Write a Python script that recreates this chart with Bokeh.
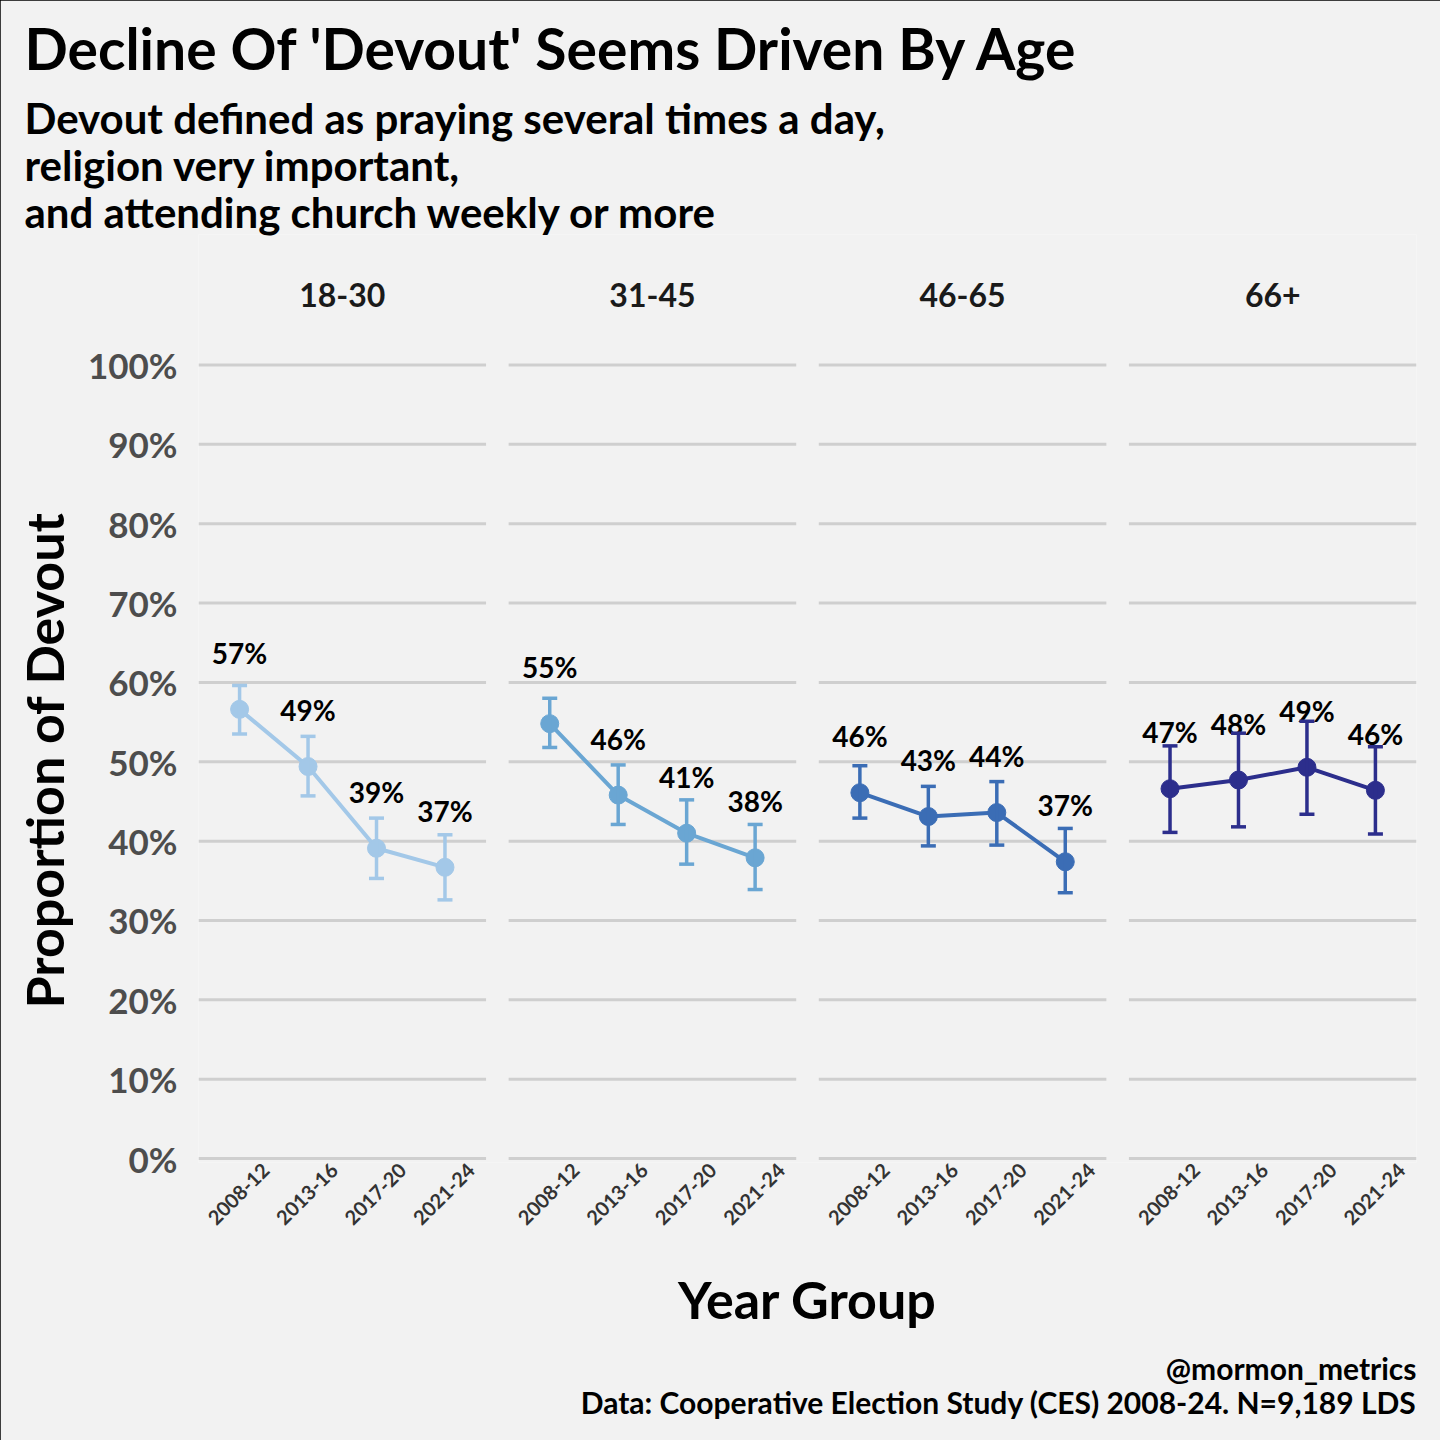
import math
from bokeh.plotting import figure
from bokeh.models import ColumnDataSource, Whisker, TeeHead, FixedTicker, Title, Label, PrintfTickFormatter
from bokeh.embed import file_html
from bokeh.resources import INLINE
from bokeh.core.properties import value

# ---------------- data ----------------
age_groups = ["18-30", "31-45", "46-65", "66+"]
year_groups = ["2008-12", "2013-16", "2017-20", "2021-24"]
panel_colors = ["#a3c8e8", "#6aa6d3", "#3b6db5", "#2c2e8c"]

devout_18_30 = [56.6, 49.4, 39.1, 36.7]
lower_18_30 = [53.5, 45.7, 35.3, 32.6]
upper_18_30 = [59.6, 53.2, 42.9, 40.8]

devout_31_45 = [54.8, 45.8, 41.0, 37.9]
lower_31_45 = [51.8, 42.1, 37.1, 33.9]
upper_31_45 = [58.0, 49.6, 45.2, 42.1]

devout_46_65 = [46.1, 43.1, 43.6, 37.4]
lower_46_65 = [42.9, 39.4, 39.5, 33.5]
upper_46_65 = [49.5, 46.9, 47.5, 41.6]

devout_66 = [46.6, 47.7, 49.3, 46.4]
lower_66 = [41.1, 41.8, 43.4, 40.9]
upper_66 = [52.0, 53.6, 55.1, 51.9]

y_ticks = list(range(0, 101, 10))

title_text = "Decline Of 'Devout' Seems Driven By Age"
subtitle_lines = [
    "Devout defined as praying several times a day,",
    "religion very important,",
    "and attending church weekly or more",
]
y_title = "Proportion of Devout"
x_title = "Year Group"
caption_lines = ["@mormon_metrics", "Data: Cooperative Election Study (CES) 2008-24. N=9,189 LDS"]

series = [
    (devout_18_30, lower_18_30, upper_18_30),
    (devout_31_45, lower_31_45, upper_31_45),
    (devout_46_65, lower_46_65, upper_46_65),
    (devout_66, lower_66, upper_66),
]

# ---------------- layout (facet positions) ----------------
PANEL_STEP = 453    # distance between facets in x units
CAT_STEP = 100      # distance between categories
PAD = 60            # padding inside a facet
TICK_SHIFT = 38     # centres the rotated year labels under their points
LABEL_OFFSET = 7.1  # value label offset above point
STRIP_Y = 108.8     # facet label height
FONT = "Lato"

x_start = CAT_STEP - PAD
x_end = 3 * PANEL_STEP + 4 * CAT_STEP + PAD

p = figure(width=1440, height=1440,
           x_range=(x_start, x_end), y_range=(-0.49, 116.43),
           output_backend="svg", toolbar_location=None,
           min_border_left=196, min_border_right=24,
           min_border_top=234, min_border_bottom=278,
           background_fill_color="#f2f2f2", border_fill_color="#f2f2f2",
           outline_line_color=None)
p.styles = {"outline": "2px solid black", "outline-offset": "-2px"}
p.xgrid.visible = False
p.ygrid.visible = False

# facet grid lines
gx0, gx1, gy = [], [], []
for k in range(len(age_groups)):
    for t in y_ticks:
        gx0.append(k * PANEL_STEP + x_start)
        gx1.append(k * PANEL_STEP + 4 * CAT_STEP + PAD)
        gy.append(t)
p.segment(x0=gx0, x1=gx1, y0=gy, y1=gy, line_color="#cfcfcf", line_width=3, level="underlay")

tick_pos = []
tick_labels = {}
for k, (vals, lo, hi) in enumerate(series):
    xs = [k * PANEL_STEP + (i + 1) * CAT_STEP for i in range(len(year_groups))]
    for xv, yg in zip(xs, year_groups):
        tick_pos.append(xv + TICK_SHIFT)
        tick_labels[xv + TICK_SHIFT] = yg
    c = panel_colors[k]
    src = ColumnDataSource(dict(
        x=xs, y=vals, lower=lo, upper=hi,
        label=[f"{round(v)}%" for v in vals],
        label_y=[v + LABEL_OFFSET for v in vals],
    ))
    w = Whisker(base="x", upper="upper", lower="lower", source=src, dimension="height",
                line_color=c, line_width=3.5, level="glyph",
                upper_head=TeeHead(size=15, line_color=c, line_width=3.5),
                lower_head=TeeHead(size=15, line_color=c, line_width=3.5))
    p.add_layout(w)
    p.line("x", "y", source=src, line_color=c, line_width=4)
    p.scatter("x", "y", source=src, size=18, fill_color=c, line_color=c)
    p.text("x", "label_y", text="label", source=src,
           text_font=value(FONT), text_font_style="bold", text_font_size="28px",
           text_align="center", text_baseline="middle", text_color="black")
    p.add_layout(Label(x=k * PANEL_STEP + 2.5 * CAT_STEP, y=STRIP_Y, text=age_groups[k],
                       text_font=FONT, text_font_style="bold", text_font_size="32px",
                       text_color="#1a1a1a", text_align="center", text_baseline="middle"))

# y axis
ya = p.yaxis[0]
ya.ticker = FixedTicker(ticks=y_ticks)
ya.formatter = PrintfTickFormatter(format="%d%%")
ya.axis_line_color = None
ya.major_tick_line_color = None
ya.minor_tick_line_color = None
ya.major_tick_out = 0
ya.major_tick_in = 0
ya.major_label_standoff = 21
ya.major_label_text_font = FONT
ya.major_label_text_font_style = "bold"
ya.major_label_text_font_size = "35px"
ya.major_label_text_color = "#4d4d4d"

# y title (left side, positioned along the 0-100 span)
p.add_layout(Title(text=y_title, align="left", offset=154, standoff=20,
                   text_font=FONT, text_font_style="bold", text_font_size="52px",
                   text_color="black"), "left")

# x axis
xa = p.xaxis[0]
xa.ticker = FixedTicker(ticks=tick_pos)
xa.major_label_overrides = tick_labels
xa.major_label_orientation = math.pi / 4
xa.axis_line_color = None
xa.major_tick_line_color = None
xa.minor_tick_line_color = None
xa.major_tick_out = 0
xa.major_tick_in = 0
xa.major_label_standoff = 4
xa.major_label_text_font = FONT
xa.major_label_text_font_style = "bold"
xa.major_label_text_font_size = "20px"
xa.major_label_text_color = "#333333"
xa.axis_label = x_title
xa.axis_label_text_font = FONT
xa.axis_label_text_font_style = "bold"
xa.axis_label_text_font_size = "52px"
xa.axis_label_text_color = "black"
xa.axis_label_standoff = 33

# titles (first added is nearest the frame)
for line in reversed(subtitle_lines):
    p.add_layout(Title(text=line, align="left", offset=-174, standoff=-5,
                       text_font=FONT, text_font_style="bold", text_font_size="42px",
                       text_color="black"), "above")
p.add_layout(Title(text=title_text, align="left", offset=-174, standoff=20,
                   vertical_align="top",
                   text_font=FONT, text_font_style="bold", text_font_size="57px",
                   text_color="black"), "above")

# caption
for line, so in zip(caption_lines, [30, -37]):
    p.add_layout(Title(text=line, align="right", standoff=so,
                       text_font=FONT, text_font_style="bold", text_font_size="30px",
                       text_color="black"), "below")

with open("out.html", "w") as f:
    f.write(file_html(p, INLINE))
